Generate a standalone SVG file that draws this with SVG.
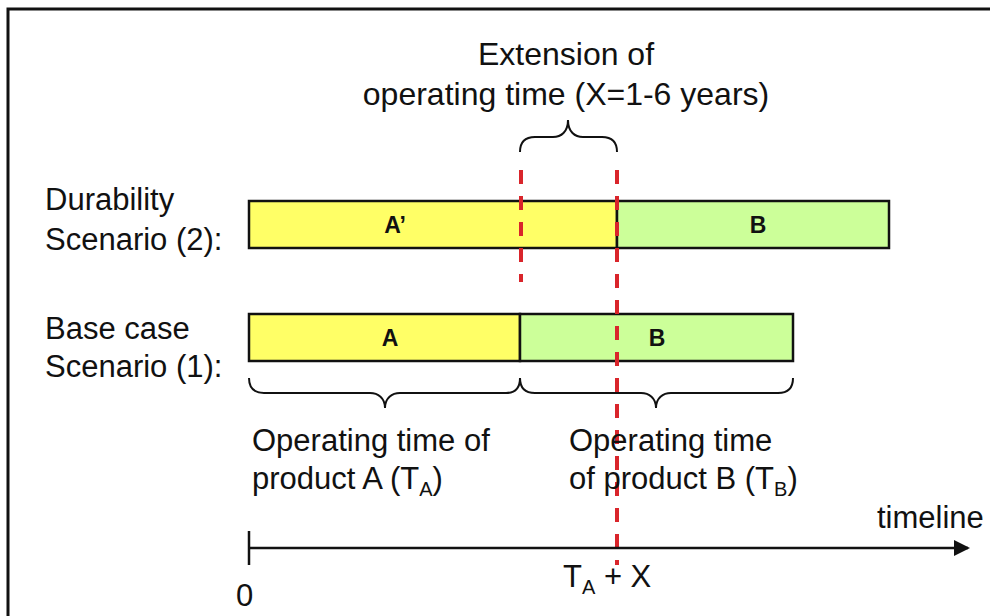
<svg xmlns="http://www.w3.org/2000/svg" width="990" height="616" viewBox="0 0 990 616">
<defs>
<style>
.t{font-family:"Liberation Sans",Arial,sans-serif;font-size:31px;fill:#111}
.tt{font-size:32px}
.b{font-family:"Liberation Sans",Arial,sans-serif;font-size:23px;font-weight:bold;fill:#111;text-anchor:middle}
.sub{font-size:20px}
.bar{stroke:#111;stroke-width:2.5}
.ya{fill:#ffff66}
.gb{fill:#ccff99}
.brace{fill:none;stroke:#111;stroke-width:2}
.red{stroke:#d9252b;stroke-width:4;stroke-dasharray:14 12;fill:none}
</style>
<marker id="arr" markerWidth="16" markerHeight="16" refX="14" refY="8" orient="auto" markerUnits="userSpaceOnUse">
<path d="M0,0 L16,8 L0,16 Z" fill="#111"/>
</marker>
</defs>
<rect width="990" height="616" fill="#fff"/>
<path d="M8,616 V9 H990" fill="none" stroke="#111" stroke-width="3"/>

<g id="title">
<text class="t tt" x="566" y="65" text-anchor="middle">Extension of</text>
<text class="t tt" x="566" y="105" text-anchor="middle">operating time (X=1-6 years)</text>
</g>

<g id="label-durability">
<text class="t" x="45" y="210">Durability</text>
<text class="t" x="45" y="250">Scenario (2):</text>
</g>
<g id="label-base">
<text class="t" x="45" y="339">Base case</text>
<text class="t" x="45" y="377">Scenario (1):</text>
</g>

<g id="bar-A-prime">
<rect class="bar ya" x="249" y="201" width="368" height="47"/>
<text class="b" x="395" y="233">A’</text>
</g>
<g id="bar-B-durability">
<rect class="bar gb" x="617" y="201" width="272" height="47"/>
<text class="b" x="758" y="233">B</text>
</g>
<g id="bar-A">
<rect class="bar ya" x="249" y="314" width="271" height="47"/>
<text class="b" x="390" y="346">A</text>
</g>
<g id="bar-B-base">
<rect class="bar gb" x="520" y="314" width="273" height="47"/>
<text class="b" x="657" y="346">B</text>
</g>

<g id="braces">
<path class="brace" d="M520,152 C520,142 525,137 535,137 H553 C561,137 568,132 568,120 C568,132 575,137 583,137 H602 C612,137 617,142 617,152"/>
<path class="brace" d="M249,378 C249,388 254,393 264,393 H370 C378,393 385,398 385,408 C385,398 392,393 400,393 H506 C515,393 520,388 520,378"/>
<path class="brace" d="M520,378 C520,388 525,393 535,393 H641 C649,393 656,398 656,408 C656,398 663,393 671,393 H778 C788,393 793,388 793,378"/>
</g>

<g id="connectors">
<line class="red" x1="521" y1="170" x2="521" y2="282"/>
<line class="red" x1="617" y1="170" x2="617" y2="565"/>
<line x1="249" y1="548" x2="968" y2="548" stroke="#111" stroke-width="2.5" marker-end="url(#arr)"/>
<line x1="249" y1="531" x2="249" y2="565" stroke="#111" stroke-width="2.5"/>
</g>

<g id="label-TA">
<text class="t" x="252" y="451">Operating time of</text>
<text class="t" x="252" y="489">product A (T<tspan class="sub" dy="7">A</tspan><tspan dy="-7">)</tspan></text>
</g>
<g id="label-TB">
<text class="t" x="569" y="451">Operating time</text>
<text class="t" x="569" y="489">of product B (T<tspan class="sub" dy="7">B</tspan><tspan dy="-7">)</tspan></text>
</g>

<g id="axis-labels">
<text class="t" x="877" y="528">timeline</text>
<text class="t" x="236" y="606">0</text>
<text class="t" x="563" y="587">T<tspan class="sub" dy="7">A</tspan><tspan dy="-7"> + X</tspan></text>
</g>
</svg>
